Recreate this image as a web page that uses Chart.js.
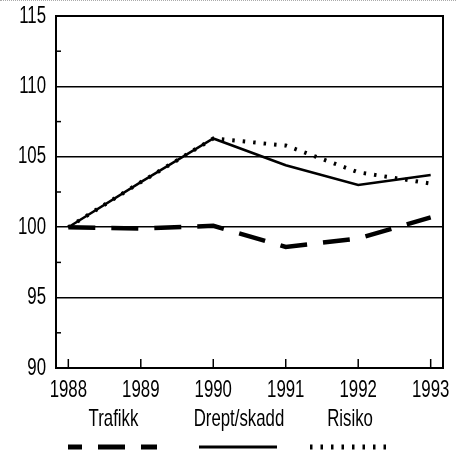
<!DOCTYPE html>
<html lang="no">
<head>
    <meta charset="UTF-8">
    <title>Trafikk, drepte/skadde og risiko</title>
    <script src="https://cdn.jsdelivr.net/npm/chart.js"></script>
    <style>
        body {
            margin: 0;
            background: #fff;
        }

        .wrap {
            position: relative;
            width: 456px;
            height: 460px;
        }

        .wrap .topline {
            position: absolute;
            top: 0;
            left: 0;
            width: 456px;
            border-top: 1px dotted #aaa;
        }
    </style>
</head>
<body>
    <div class="wrap">
        <canvas id="lineChart" width="456" height="460"></canvas>
        <div class="topline"></div>
    </div>

    <script>
        // data (index, 1988 = 100)
        var years = [1988, 1989, 1990, 1991, 1992, 1993];
        var seriesNames = ['Trafikk', 'Drept/skadd', 'Risiko'];
        var trafikk = [100, 99.9, 100.1, 98.6, 99.2, 100.7];
        var dreptSkadd = [100, 103.2, 106.3, 104.4, 103.0, 103.7];
        var risiko = [100, 103.2, 106.3, 105.8, 103.9, 103.1];
        var yTicks = [90, 95, 100, 105, 110, 115];

        var FONT = "'Liberation Sans', Arial, sans-serif";
        var FONT_SIZE = 24;
        var SQUEEZE = 0.7; // original text is a condensed Helvetica
        Chart.defaults.font.family = FONT;
        Chart.defaults.font.size = FONT_SIZE;
        Chart.defaults.color = '#000';

        function toPoints(values) {
            return values.map(function (v, i) {
                return { x: years[i], y: v };
            });
        }

        // squeeze all text horizontally so it reads like the condensed original
        var ctx2d = document.getElementById('lineChart').getContext('2d');
        var origFill = ctx2d.fillText;
        var origMeasure = ctx2d.measureText;
        ctx2d.fillText = function (text, x, y) {
            this.save();
            this.translate(x, y);
            this.scale(SQUEEZE, 1);
            origFill.call(this, text, 0, 0);
            this.restore();
        };
        ctx2d.measureText = function (text) {
            var m = origMeasure.call(this, text);
            return {
                width: m.width * SQUEEZE,
                actualBoundingBoxAscent: m.actualBoundingBoxAscent,
                actualBoundingBoxDescent: m.actualBoundingBoxDescent,
            };
        };

        // frame, inward tick marks and the legend under the axis
        var decorations = {
            id: 'decorations',
            afterDraw: function (chart) {
                var ctx = chart.ctx;
                var area = chart.chartArea;
                var xs = chart.scales.x;
                var ys = chart.scales.y;

                ctx.save();
                ctx.strokeStyle = '#000';
                ctx.lineWidth = 2;
                ctx.strokeRect(area.left, area.top, area.right - area.left, area.bottom - area.top);

                ctx.lineWidth = 1.5;
                years.forEach(function (yr) {
                    var px = xs.getPixelForValue(yr);
                    ctx.beginPath();
                    ctx.moveTo(px, area.bottom);
                    ctx.lineTo(px, area.bottom - 9);
                    ctx.stroke();
                });
                for (var v = 92.5; v < 115; v += 5) {
                    var py = ys.getPixelForValue(v);
                    ctx.beginPath();
                    ctx.moveTo(area.left, py);
                    ctx.lineTo(area.left + 5, py);
                    ctx.stroke();
                }

                // legend: name above a line sample
                var legendX = [[68, 157], [199, 277], [310, 388]];
                ctx.font = FONT_SIZE + 'px ' + FONT;
                ctx.fillStyle = '#000';
                ctx.textAlign = 'center';
                ctx.textBaseline = 'middle';
                chart.data.datasets.forEach(function (ds, i) {
                    var x0 = legendX[i][0], x1 = legendX[i][1];
                    ctx.fillText(ds.label, (x0 + x1) / 2 + 1, 419);
                    ctx.beginPath();
                    ctx.lineWidth = ds.legendWidth;
                    ctx.setLineDash(ds.borderDash || []);
                    ctx.lineDashOffset = ds.legendDashOffset || 0;
                    ctx.moveTo(x0, 447);
                    ctx.lineTo(x1, 447);
                    ctx.stroke();
                });
                ctx.restore();
            }
        };

        var lineChartConfig = {
            type: 'line',
            data: {
                datasets: [{
                    label: seriesNames[0],
                    data: toPoints(trafikk),
                    borderColor: '#000',
                    borderWidth: 4.5,
                    borderDash: [27, 16],
                    legendWidth: 5,
                    legendDashOffset: 13,
                }, {
                    label: seriesNames[1],
                    data: toPoints(dreptSkadd),
                    borderColor: '#000',
                    borderWidth: 2.5,
                    legendWidth: 3,
                }, {
                    label: seriesNames[2],
                    data: toPoints(risiko),
                    borderColor: '#000',
                    borderWidth: 4,
                    borderDash: [2.5, 8],
                    legendWidth: 5,
                }]
            },
            options: {
                responsive: false,
                animation: false,
                events: [],
                elements: {
                    point: { radius: 0 },
                    line: { tension: 0, borderCapStyle: 'butt', fill: false },
                },
                layout: {
                    padding: { left: 0, right: 13, top: 16, bottom: 0 },
                },
                plugins: {
                    legend: { display: false },
                    tooltip: { enabled: false },
                },
                scales: {
                    x: {
                        type: 'linear',
                        min: 1987.83,
                        max: 1993.17,
                        afterBuildTicks: function (scale) {
                            scale.ticks = years.map(function (y) { return { value: y }; });
                        },
                        afterFit: function (scale) {
                            scale.height = 92;
                            scale.paddingLeft = 0;
                            scale.paddingRight = 0;
                        },
                        ticks: {
                            padding: 8,
                            maxRotation: 0,
                            autoSkip: false,
                            callback: function (value) { return String(value); },
                        },
                        grid: { display: false, drawTicks: false },
                        border: { display: true, color: '#000', width: 2 },
                    },
                    y: {
                        min: 90,
                        max: 115,
                        afterBuildTicks: function (scale) {
                            scale.ticks = yTicks.map(function (v) { return { value: v }; });
                        },
                        afterFit: function (scale) {
                            scale.width = 56;
                            scale.paddingTop = 0;
                            scale.paddingBottom = 0;
                        },
                        ticks: {
                            padding: 10,
                            callback: function (value) { return String(value); },
                        },
                        grid: {
                            color: '#000',
                            lineWidth: 1.5,
                            drawTicks: false,
                        },
                        border: { display: true, color: '#000', width: 2 },
                    },
                },
            },
            plugins: [decorations],
        };

        var lineChart = new Chart(ctx2d, lineChartConfig);
    </script>
</body>
</html>
